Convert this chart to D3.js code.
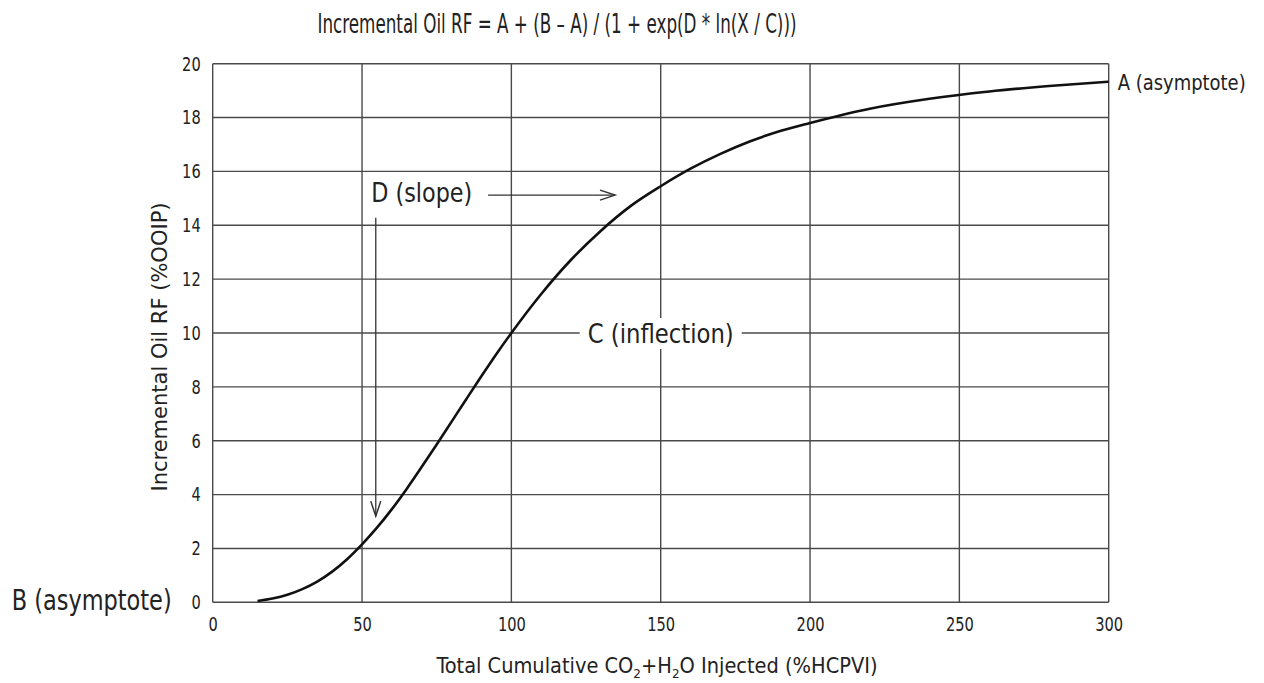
<!DOCTYPE html>
<html><head><meta charset="utf-8">
<script src="https://cdn.jsdelivr.net/npm/d3@7"></script>
<style>
body{margin:0;background:#fff;}
svg{display:block;}
text{font-family:"Liberation Sans Narrow","DejaVu Sans Condensed","DejaVu Sans",sans-serif;font-stretch:condensed;fill:#222;}
</style></head>
<body>
<svg id="chart" width="1264" height="683"></svg>
<script>
// ---- data ----
const xValues = [15,20,25,30,35,40,45,50,55,60,65,70,75,80,85,90,95,100,110,120,130,140,150,160,170,180,190,200,220,240,260,280,300];
const rfValues = [0.05,0.14,0.28,0.49,0.77,1.14,1.6,2.15,2.77,3.46,4.22,5.03,5.86,6.71,7.56,8.4,9.22,10.0,11.45,12.72,13.8,14.72,15.45,16.1,16.65,17.12,17.5,17.8,18.33,18.7,18.97,19.17,19.33];
const xTicks = [0,50,100,150,200,250,300];
const yTicks = [0,2,4,6,8,10,12,14,16,18,20];
const titleText = "Incremental Oil RF = A + (B \u2013 A) / (1 + exp(D * ln(X / C)))";
const yTitle = "Incremental Oil RF (%OOIP)";

const svg = d3.select("#chart");
const m = {l:212.7, t:63.7, w:896, h:538.6};
const x = d3.scaleLinear().domain([0,300]).range([m.l, m.l+m.w]);
const y = d3.scaleLinear().domain([0,20]).range([m.t+m.h, m.t]);
const gridColor = "#4a4a4a";

// grid
const g = svg.append("g");
g.selectAll(".vg").data(xTicks).join("line")
  .attr("x1", d=>x(d)).attr("x2", d=>x(d)).attr("y1", y(0)).attr("y2", y(20))
  .attr("stroke", gridColor).attr("stroke-width", 1.4);
g.selectAll(".hg").data(yTicks).join("line")
  .attr("x1", x(0)).attr("x2", x(300)).attr("y1", d=>y(d)).attr("y2", d=>y(d))
  .attr("stroke", gridColor).attr("stroke-width", 1.4);

// axes tick labels via d3 axes (no tick marks)
const xAxis = svg.append("g").attr("transform", `translate(0,${y(0)})`)
  .call(d3.axisBottom(x).tickValues(xTicks).tickSize(0).tickPadding(15));
xAxis.select(".domain").remove();
xAxis.attr("font-family", null).attr("font-size", null);
xAxis.selectAll("text").attr("font-size", 20).attr("fill","#222")
  .attr("textLength", d => String(d).length*9.3).attr("lengthAdjust","spacingAndGlyphs");
const yAxis = svg.append("g").attr("transform", `translate(${x(0)},0)`)
  .call(d3.axisLeft(y).tickValues(yTicks).tickSize(0).tickPadding(12));
yAxis.select(".domain").remove();
yAxis.attr("font-family", null).attr("font-size", null);
yAxis.selectAll("text").attr("font-size", 20).attr("fill","#222")
  .attr("textLength", d => String(d).length*9.3).attr("lengthAdjust","spacingAndGlyphs");

// curve
const pts = xValues.map((v,i)=>[v, rfValues[i]]);
svg.append("path").datum(pts)
  .attr("d", d3.line().x(d=>x(d[0])).y(d=>y(d[1])).curve(d3.curveMonotoneX))
  .attr("fill","none").attr("stroke","#111").attr("stroke-width", 2.6);

// C (inflection) label with white background
const cLab = svg.append("text").attr("x", x(150)).attr("y", y(10)+10)
  .attr("text-anchor","middle").attr("font-size", 27)
  .attr("textLength", 146).attr("lengthAdjust","spacingAndGlyphs")
  .text("C (inflection)");
const bb = cLab.node().getBBox();
svg.insert("rect", () => cLab.node()).attr("x", x(150)-73-8).attr("y", bb.y).attr("width", 146+16).attr("height", bb.height)
  .attr("fill","#fff");

// D (slope) annotation
svg.append("text").attr("x", x(53.1)).attr("y", y(14.85)).attr("font-size", 27)
  .attr("textLength", 101).attr("lengthAdjust","spacingAndGlyphs").text("D (slope)");
const arrowColor = "#333";
function arrow(x1,y1,x2,y2){
  svg.append("line").attr("x1",x1).attr("y1",y1).attr("x2",x2).attr("y2",y2)
    .attr("stroke",arrowColor).attr("stroke-width",1.3);
  const ang = Math.atan2(y2-y1, x2-x1), L=15, W=5;
  const bx = x2 - L*Math.cos(ang), by = y2 - L*Math.sin(ang);
  const px = -Math.sin(ang)*W, py = Math.cos(ang)*W;
  svg.append("path").attr("d", `M${bx+px},${by+py}L${x2},${y2}L${bx-px},${by-py}`)
    .attr("fill","none").attr("stroke",arrowColor).attr("stroke-width",1.5);
}
arrow(x(92.2), y(15.12), x(134.7), y(15.12));
arrow(x(54.6), y(14.28), x(54.6), y(3.2));

// A / B asymptote labels
svg.append("text").attr("x", x(300)+9).attr("y", y(19.33)+8).attr("font-size", 22)
  .attr("textLength", 128).attr("lengthAdjust","spacingAndGlyphs").text("A (asymptote)");
svg.append("text").attr("x", 11.7).attr("y", y(0)+8).attr("font-size", 28)
  .attr("textLength", 160).attr("lengthAdjust","spacingAndGlyphs").text("B (asymptote)");

// title
svg.append("text").attr("x", 557).attr("y", 33).attr("text-anchor","middle").attr("font-size", 26)
  .attr("textLength", 479).attr("lengthAdjust","spacingAndGlyphs").text(titleText);

// y title
svg.append("text").attr("transform", `translate(167,${(y(0)+y(20))/2+14}) rotate(-90)`)
  .attr("text-anchor","middle").attr("font-size", 21)
  .attr("textLength", 289).attr("lengthAdjust","spacingAndGlyphs").text(yTitle);

// x title with subscripts
const xt = svg.append("text").attr("x", 657).attr("y", 673).attr("text-anchor","middle").attr("font-size", 21);
xt.append("tspan").text("Total Cumulative CO");
xt.append("tspan").attr("font-size", 13).attr("dy", 5).text("2");
xt.append("tspan").attr("dy", -5).text("+H");
xt.append("tspan").attr("font-size", 13).attr("dy", 5).text("2");
xt.append("tspan").attr("dy", -5).text("O Injected (%HCPVI)");
xt.attr("textLength", 441).attr("lengthAdjust","spacingAndGlyphs");
</script>
</body></html>
